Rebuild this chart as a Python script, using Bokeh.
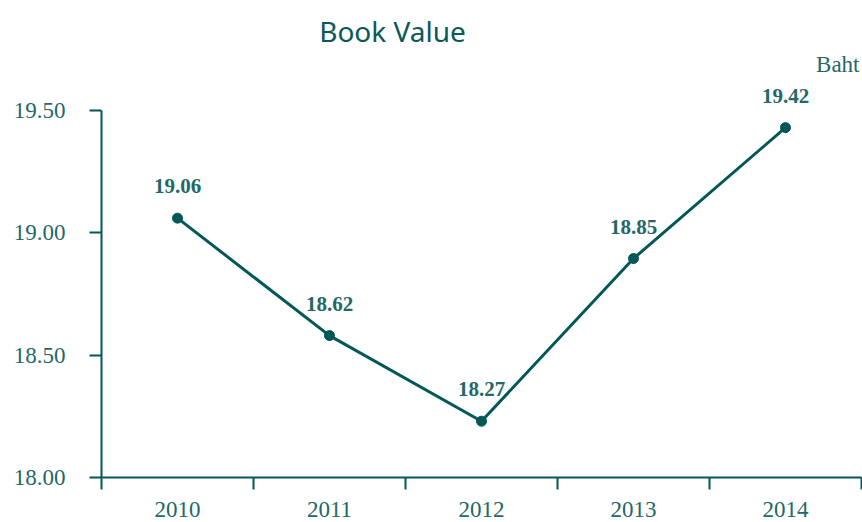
from bokeh.plotting import figure
from bokeh.models import ColumnDataSource, FixedTicker, Range1d, Label, LabelSet
from bokeh.embed import file_html
from bokeh.resources import INLINE

years = ["2010", "2011", "2012", "2013", "2014"]
values = [19.06, 18.58, 18.23, 18.895, 19.43]
labels = ["19.06", "18.62", "18.27", "18.85", "19.42"]
y_ticks = [18.0, 18.5, 19.0, 19.5]
y_tick_labels = ["18.00", "18.50", "19.00", "19.50"]

LINE = "#045757"
TEXT = "#236868"
SERIF = "Liberation Serif"

# layout: axis span of 367px for the tick range, 110px of headroom above it
AXIS_PX = 367
TOP_PX = 110
y_lo, y_hi = y_ticks[0], y_ticks[-1]
y_top = y_hi + TOP_PX * (y_hi - y_lo) / AXIS_PX

xs = [i + 0.5 for i in range(len(years))]
src = ColumnDataSource(dict(x=xs, y=values, lab=labels))

p = figure(width=862, height=522, output_backend="svg", toolbar_location=None,
           x_range=Range1d(0, len(years)), y_range=Range1d(y_lo, y_top),
           min_border_left=101, min_border_right=1, min_border_top=0, min_border_bottom=45)
p.outline_line_color = None
p.grid.visible = False
p.background_fill_color = None
p.border_fill_color = "white"

p.line("x", "y", source=src, line_color=LINE, line_width=3)
p.scatter("x", "y", source=src, size=10, fill_color=LINE, line_color=LINE)
p.add_layout(LabelSet(x="x", y="y", text="lab", source=src, y_offset=32, text_align="center",
                      text_baseline="middle", text_font=SERIF, text_font_size="21px",
                      text_font_style="bold", text_color=TEXT))

xa = p.xaxis[0]
xa.ticker = FixedTicker(ticks=xs, minor_ticks=list(range(len(years) + 1)))
xa.major_label_overrides = {x: y for x, y in zip(xs, years)}
xa.major_tick_out = 0
xa.major_tick_in = 0
xa.minor_tick_out = 12
xa.minor_tick_in = 0
xa.minor_tick_line_color = LINE
xa.minor_tick_line_width = 2
xa.axis_line_color = LINE
xa.axis_line_width = 2
xa.major_label_text_font = SERIF
xa.major_label_text_font_size = "23px"
xa.major_label_text_color = TEXT
xa.major_label_standoff = 12

ya = p.yaxis[0]
ya.ticker = FixedTicker(ticks=y_ticks)
ya.bounds = (y_lo, y_hi)
ya.major_label_overrides = {t: s for t, s in zip(y_ticks, y_tick_labels)}
ya.major_tick_out = 12
ya.major_tick_in = 0
ya.major_tick_line_color = LINE
ya.major_tick_line_width = 2
ya.minor_tick_line_color = None
ya.axis_line_color = LINE
ya.axis_line_width = 2
ya.major_label_text_font = SERIF
ya.major_label_text_font_size = "23px"
ya.major_label_text_color = TEXT
ya.major_label_standoff = 24

p.add_layout(Label(x=291, y=447, x_units="screen", y_units="screen", text="Book Value",
                   text_align="center", text_baseline="middle", text_font="Noto Sans",
                   text_font_size="28px", text_color="#0b5858"))
p.add_layout(Label(x=758, y=413, x_units="screen", y_units="screen", text="Baht",
                   text_align="right", text_baseline="middle", text_font=SERIF,
                   text_font_size="23px", text_color=TEXT))

open("out.html", "w").write(file_html(p, INLINE))
